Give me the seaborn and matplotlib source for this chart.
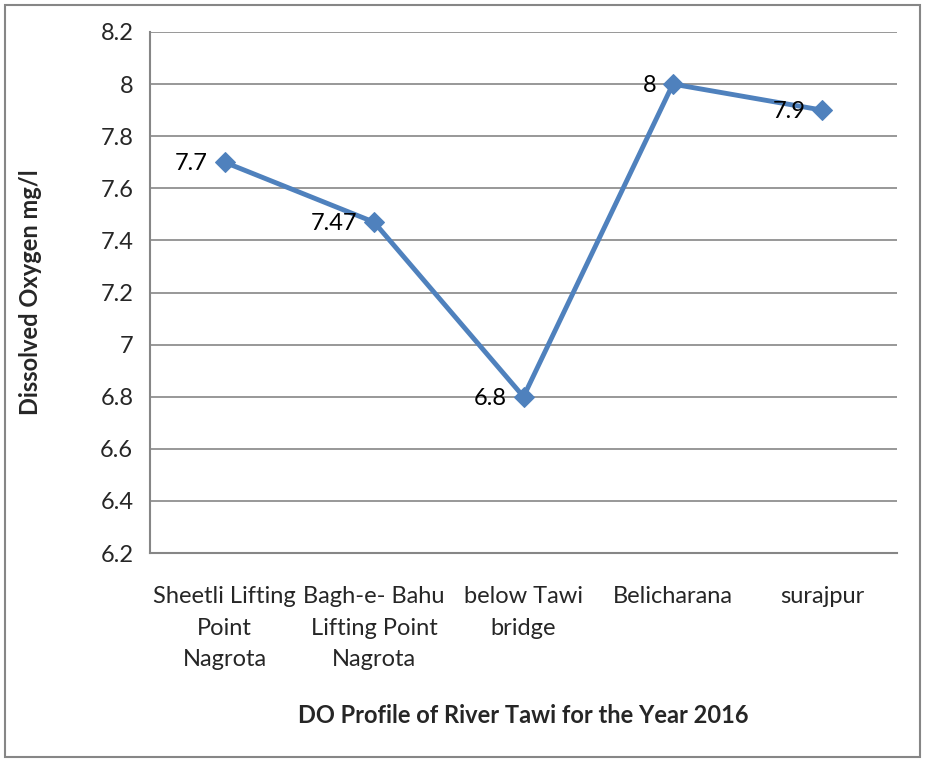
import matplotlib.pyplot as plt
import seaborn as sns
import pandas as pd
from matplotlib.patches import Rectangle

sns.set_style("white")
plt.rcParams['font.family'] = ['Lato', 'DejaVu Sans']

sites = ['Sheetli Lifting\nPoint\nNagrota', 'Bagh-e- Bahu\nLifting Point\nNagrota',
         'below Tawi\nbridge', 'Belicharana', 'surajpur']
do_values = [7.7, 7.47, 6.8, 8.0, 7.9]
value_labels = ['7.7', '7.47', '6.8', '8', '7.9']

data = pd.DataFrame({'site': sites, 'do': do_values})

fs = 17

fig = plt.figure(figsize=(9.26, 7.63), dpi=100)
ax = fig.add_axes([150 / 926, 1 - 553 / 763, 747 / 926, 521 / 763])

sns.lineplot(x='site', y='do', data=data, sort=False, ax=ax, color='#4F81BD',
             linewidth=3.5, marker='D', markersize=10, markeredgecolor='#4F81BD')

for i, (v, lab) in enumerate(zip(do_values, value_labels)):
    ax.annotate(lab, (i, v), xytext=(-12, -1), textcoords='offset points',
                ha='right', va='center', fontsize=fs, color='black')

ax.set_xlim(-0.5, len(sites) - 0.5)
ax.set_ylim(6.2, 8.2)
ax.set_yticks([6.2 + 0.2 * k for k in range(11)])
ax.set_yticklabels([f'{6.2 + 0.2 * k:g}' for k in range(11)])
ax.yaxis.grid(True, color='#868686', linewidth=1.2)
ax.set_axisbelow(True)

ax.set_xticks([i - 0.5 for i in range(len(sites) + 1)], minor=False)
ax.set_xticklabels([])
ax.set_xticks(range(len(sites)), minor=True)
ax.set_xticklabels(sites, minor=True, fontsize=fs, linespacing=1.6)
ax.tick_params(axis='x', which='major', length=7, width=1.2, color='#868686', direction='out')
ax.tick_params(axis='x', which='minor', length=0, pad=24)
ax.tick_params(axis='y', length=7, width=1.2, color='#868686', direction='out', labelsize=fs, pad=5)

for side in ['top', 'right']:
    ax.spines[side].set_visible(False)
for side in ['left', 'bottom']:
    ax.spines[side].set_color('#868686')
    ax.spines[side].set_linewidth(1.5)

ax.set_xlabel('DO Profile of River Tawi for the Year 2016', fontsize=fs, fontweight='bold')
ax.xaxis.set_label_coords(0.5, -0.29)
ax.set_ylabel('Dissolved Oxygen mg/l', fontsize=fs, fontweight='bold')
ax.yaxis.set_label_coords(-0.145, 0.5)

fig.patches.append(Rectangle((5 / 926, 6 / 763), 915 / 926, 752 / 763, transform=fig.transFigure,
                             fill=False, edgecolor='#868686', linewidth=1.5))

fig.savefig('out.png', dpi=100)
